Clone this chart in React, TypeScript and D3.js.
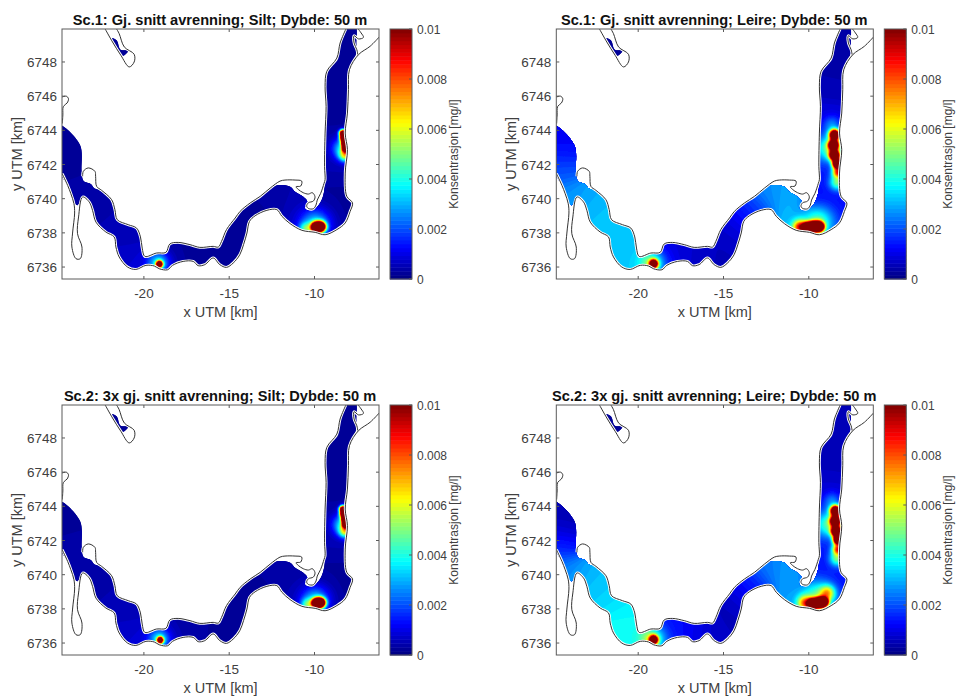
import React, { useMemo } from "react";
import * as d3 from "d3";

type P = [number, number];
// Coastline traces, km
const shoreSouth: P[] = [[-24.79,6741.46],[-24.47,6740.78],[-24.28,6740.29],[-24.1,6739.71],[-24.06,6739.16],[-24.18,6737.99],[-24.22,6737.17],[-23.98,6736.49],[-23.73,6736.49],[-23.63,6737.17],[-23.89,6737.95],[-23.83,6738.93],[-23.59,6740.1],[-23.2,6739.8],[-23.01,6739.32],[-22.81,6738.63],[-22.23,6738.05],[-21.74,6737.76],[-21.64,6737.17],[-21.45,6736.59],[-20.96,6736],[-20.47,6735.86],[-19.88,6736.1],[-19.39,6736.06],[-19.1,6735.9],[-18.61,6735.84],[-18.32,6736.1],[-17.7,6736.33],[-17.11,6736.33],[-16.82,6736.08],[-16.43,6736.14],[-15.94,6736.53],[-15.55,6736.14],[-15.16,6735.98],[-14.77,6736.23],[-14.38,6736.72],[-14.16,6737.31],[-13.96,6737.99],[-13.81,6738.67],[-13.48,6739],[-12.79,6739.32],[-12.21,6739.36],[-11.91,6738.97],[-11.43,6738.54],[-10.74,6738.15],[-9.96,6738.03],[-9.38,6737.89],[-8.69,6738.19],[-8.2,6738.58],[-7.91,6739.26],[-7.77,6739.75],[-8.11,6740.14],[-8.2,6741.5],[-8.07,6742.87],[-8.2,6743.84],[-8.07,6745.01],[-8.01,6746.38],[-7.95,6747.55],[-7.42,6748.43],[-6.74,6748.92],[-6.21,6749.46]];
const shoreNorthEast: P[] = [[-8.16,6749.93],[-8.5,6749.11],[-8.69,6748.23],[-9.28,6747.45],[-9.38,6746.58],[-9.32,6745.4],[-9.38,6743.84],[-9.41,6741.89],[-9.38,6741.11]];
const shoreBay: P[] = [[-9.44,6740.9],[-9.64,6740.31],[-9.84,6739.92],[-9.91,6739.63],[-10.07,6739.41],[-10.36,6739.43],[-10.46,6739.57],[-10.36,6739.76],[-10.07,6739.86],[-9.97,6740.11],[-10.13,6740.35],[-10.36,6740.27],[-10.66,6740.35],[-10.95,6740.54],[-11.08,6740.7],[-10.81,6740.74],[-10.75,6741.03],[-11.14,6741.09],[-11.73,6741.09],[-12.02,6741.03]];
const shoreNorthWest: P[] = [[-12.6,6740.62],[-13.18,6740.14],[-13.77,6739.75],[-14.36,6739.26],[-14.65,6738.87],[-15.16,6738.19],[-15.45,6737.5],[-15.64,6737.17],[-15.94,6737.21],[-16.72,6737.15],[-17.3,6737.31],[-17.99,6737.44],[-18.48,6737.35],[-18.71,6736.86],[-19.26,6736.82],[-19.94,6736.62],[-20.1,6737.11],[-20.2,6737.76],[-20.43,6738.28],[-20.92,6738.48],[-21.56,6738.77],[-21.7,6739.36],[-21.89,6739.94],[-22.48,6740.49]];
const shoreIsland: P[] = [[-22.48,6740.49],[-22.77,6740.72],[-22.83,6741.31],[-22.87,6741.6],[-23.26,6741.8],[-23.55,6741.6],[-23.59,6741.31]];
const shoreHeadland: P[] = [[-7.44,6749.93],[-7.27,6749.7],[-7.13,6749.44],[-7.42,6749.35],[-7.68,6749.54],[-7.68,6749.11],[-7.52,6748.72],[-7.46,6748.43]];
const shoreIslet: P[] = [[-22.27,6749.93],[-21.84,6749.17],[-21.35,6748.39],[-20.86,6747.71],[-20.57,6748],[-20.57,6748.45],[-21.15,6748.88],[-21.45,6749.66],[-21.6,6749.93]];
const shoreWest: P[] = [[-24.79,6745.95],[-24.55,6746],[-24.42,6745.85],[-24.5,6745.6],[-24.72,6745.4],[-24.75,6744.9],[-24.78,6744.4]];
// Water edges where they leave the shore
const waterWestNorth: P[] = [[-22.9,6740.6],[-23.1,6740.85],[-23.55,6741.05],[-23.65,6741.6],[-23.75,6743.16],[-25,6744.3]];
const waterTip: P[] = [[-25,6741.7],[-24.47,6740.78],[-24.28,6740.29],[-23.91,6739.62],[-23.59,6740.1]];
const waterBay: P[] = [[-9.44,6740.4],[-9.58,6739.92],[-9.87,6739.49],[-10.26,6739.29],[-10.56,6739.43],[-10.42,6739.82],[-10.66,6740.11],[-11.14,6740.41],[-11.43,6740.7],[-12.02,6740.8]];
const waterHead: P[] = [[-7.55,6748.55],[-7.55,6749.1],[-7.6,6750.1],[-8.16,6750.1]];
const waterIslet: P[] = [[-21.89,6749.4],[-21.6,6749.27],[-21.37,6748.72],[-20.92,6748.66],[-21.21,6748.37],[-21.6,6748.82]];

// Concentration read at stations along the fjord, mg/l
const stationX = [-24.6,-24,-24.6,-24.4,-23.9,-23.9,-23,-22.2,-21.4,-20.8,-20.8,-20.2,-18.6,-17.9,-17,-16.3,-15.5,-14.9,-14.4,-13.7,-13,-12.2,-11.4,-11,-10.2,-9.5,-8.8,-8.2,-8.9,-8.8,-8.8,-8.9,-8.9,-8.7,-8.35,-7.9,-21.3];
const stationY = [6743.6,6742.9,6742.5,6741.6,6741.9,6740.6,6740.4,6739.6,6738.7,6737.8,6736.8,6736.3,6736.4,6736.9,6736.8,6736.7,6736.5,6737,6737.8,6738.6,6739.3,6740.1,6740,6739.1,6739.1,6739.5,6739.6,6739.2,6738.6,6740.6,6742,6743.5,6745,6746.5,6748,6749.6,6748.8];
const silt1 = [.25,.25,.25,.3,.3,.35,.4,.45,.5,.55,.7,.9,.5,.3,.25,.25,.2,.2,.2,.25,.3,.4,.5,.6,.5,.3,.3,.25,.4,.3,.5,.4,.25,.2,.2,.2,.2];
const leire1 = [1.1,1.2,1.6,2.1,1.9,2.7,2.9,3.1,3.3,3.2,3.2,3.3,1.5,.9,.8,.7,.6,.6,.8,1.2,1.8,2.6,3,3.2,2,1.1,1.3,1.3,1.8,1.4,1.5,1.5,.9,.5,.4,.4,.2];
const silt2 = [.25,.3,.3,.35,.35,.4,.4,.45,.5,.55,.7,.9,.7,.4,.35,.3,.3,.25,.25,.25,.3,.35,.4,.5,.4,.3,.3,.25,.35,.3,.5,.4,.25,.2,.2,.2,.2];
const leire2 = [.5,.5,1,1.9,1.1,2.6,3,3.2,3.4,3.7,3.9,3.8,1.9,1.3,1.2,.9,.7,.6,.6,1,1.6,2.4,2.9,2.9,2,1.4,1.5,1.3,2,1.4,1.5,1.5,.8,.6,.5,.6,.2];

// Sediment plumes [x km, y km, spread km, peak mg/l]
const plumesSilt1: number[][] = [[-19.15,6736.23,.13,12],[-19.2,6736.3,.42,3],[-9.98,6738.4,.19,14],[-9.68,6738.42,.19,14],[-10,6738.55,.6,3],[-10.6,6738.3,.25,3],[-8.4,6743.9,.13,14],[-8.36,6743.6,.13,14],[-8.28,6743.3,.13,14],[-8.22,6743,.13,14],[-8.25,6742.6,.25,5],[-8.45,6743,.4,3]];
const plumesLeire1: number[][] = [[-19.15,6736.25,.16,12],[-19.2,6736.3,.45,3],[-10.15,6738.35,.19,15],[-9.8,6738.42,.19,15],[-9.45,6738.42,.19,15],[-10.6,6738.4,.28,6],[-9.5,6738.75,.6,3],[-8.55,6743.8,.2,14],[-8.6,6743.2,.2,14],[-8.55,6742.6,.2,14],[-8.4,6742.1,.18,14],[-8.35,6741.6,.22,7],[-8.4,6741,.3,3.5],[-8.95,6743,.5,3],[-8.7,6744.4,.35,1.5]];
const plumesSilt2: number[][] = [[-19.1,6736.23,.12,12],[-19.15,6736.3,.4,3],[-9.95,6738.4,.18,14],[-9.68,6738.42,.18,14],[-10,6738.55,.55,3],[-10.5,6738.3,.25,3],[-8.4,6743.9,.13,14],[-8.36,6743.6,.13,14],[-8.28,6743.3,.13,14],[-8.22,6743,.13,14],[-8.25,6742.6,.25,5],[-8.45,6743,.4,3]];
const plumesLeire2: number[][] = [[-19.15,6736.25,.16,12],[-19.2,6736.3,.45,3],[-9.85,6738.35,.18,15],[-9.5,6738.4,.18,15],[-9.2,6738.45,.18,15],[-8.95,6739,.3,4],[-10.3,6738.4,.3,5],[-9.5,6738.8,.6,3],[-8.5,6743.8,.2,14],[-8.5,6743.2,.2,14],[-8.45,6742.6,.2,14],[-8.35,6742.1,.18,14],[-8.35,6741.55,.22,7],[-8.4,6741,.3,3.5],[-8.95,6743,.5,3],[-8.7,6744.4,.35,1.5]];

const xTicks = [-20, -15, -10];
const yTicks = [6736, 6738, 6740, 6742, 6744, 6746, 6748];
const barTicks = [0, 0.002, 0.004, 0.006, 0.008, 0.01];
const titles = [
  "Sc.1: Gj. snitt avrenning; Silt; Dybde: 50 m",
  "Sc.1: Gj. snitt avrenning; Leire; Dybde: 50 m",
  "Sc.2: 3x gj. snitt avrenning; Silt; Dybde: 50 m",
  "Sc.2: 3x gj. snitt avrenning; Leire; Dybde: 50 m",
];
const stationSeries = [silt1, leire1, silt2, leire2];
const plumeSeries = [plumesSilt1, plumesLeire1, plumesSilt2, plumesLeire2];
const originX = [62, 556.3, 62, 556.3];
const originY = [29, 29, 405, 405];

const W = 317, H = 250, CBX = 328, CBW = 22;
const FONT = "'Liberation Sans', Arial, sans-serif";
const AXIS = "#5a5a5a", TEXT = "#404040";
const x = d3.scaleLinear().domain([-24.8, -6.22]).range([0, W]);
const y = d3.scaleLinear().domain([6735.3, 6749.93]).range([H, 0]);
const LEVELS = 64;
const c = d3.scaleLinear().domain([0, 0.01]).range([H, 0]);

const clamp = (v: number) => Math.max(0, Math.min(1, v));
const jet = (v: number) => {
  const r = clamp(Math.min(4 * v - 1.5, -4 * v + 4.5));
  const g = clamp(Math.min(4 * v - 0.5, -4 * v + 3.5));
  const b = clamp(Math.min(4 * v + 0.5, -4 * v + 2.5));
  return d3.rgb(r * 255, g * 255, b * 255).formatHex();
};

const ln = d3.line<P>().x((d) => x(d[0])).y((d) => y(d[1])).curve(d3.curveCatmullRom.alpha(0.5));
const lnClosed = d3.line<P>().x((d) => x(d[0])).y((d) => y(d[1])).curve(d3.curveCatmullRomClosed.alpha(0.5));
const waterPolygon: P[] = [
  ...waterTip,
  ...shoreSouth.slice(13, 58),
  ...waterHead,
  ...shoreNorthEast,
  ...waterBay,
  ...shoreNorthWest,
  ...waterWestNorth,
];
const waterPath = `${lnClosed(waterPolygon)}${lnClosed(waterIslet)}`;
const STEP = 2;

function field(i: number) {
  const vals = stationSeries[i], plumes = plumeSeries[i];
  const nx = Math.ceil(W / STEP) + 1, ny = Math.ceil(H / STEP) + 1;
  const out = new Array(nx * ny);
  for (let r = 0; r < ny; r++) {
    const ky = y.invert(r * STEP);
    for (let q = 0; q < nx; q++) {
      const kx = x.invert(q * STEP);
      let sw = 1e-12, sv = 0;
      for (let k = 0; k < vals.length; k++) {
        const d2 = (kx - stationX[k]) ** 2 + (ky - stationY[k]) ** 2;
        const w = Math.exp(-d2 / (2 * 0.55 * 0.55));
        sw += w; sv += w * vals[k];
      }
      let v = sv / sw;
      for (const p of plumes) {
        const d2 = (kx - p[0]) ** 2 + (ky - p[1]) ** 2;
        v += p[3] * Math.exp(-d2 / (2 * p[2] * p[2]));
      }
      out[r * nx + q] = v / 1000;
    }
  }
  const thresholds = d3.range(LEVELS).map((l) => (l / LEVELS) * 0.01);
  const shapes = d3.contours().size([nx, ny]).thresholds(thresholds)(out);
  const path = d3.geoPath();
  return shapes.map((s, l) => ({ d: path(s) as string, fill: jet((l + 0.5) / LEVELS) }));
}

function Panel({ i }: { i: number }) {
  const bands = useMemo(() => field(i), [i]);
  const id = `water${i}`;
  const lines = [shoreSouth, [...shoreNorthEast, ...shoreBay, ...shoreNorthWest, ...shoreIsland.slice(1)], shoreHeadland, shoreIslet, shoreWest] as P[][];
  return (
    <g transform={`translate(${originX[i]},${originY[i]})`} fontFamily={FONT}>
      <defs>
        <clipPath id={id}><path d={waterPath} /></clipPath>
        <clipPath id={`box${i}`}><rect x={0} y={0} width={W} height={H} /></clipPath>
      </defs>
      <g clipPath={`url(#box${i})`} filter="url(#soft)">
        <g clipPath={`url(#${id})`}>
          <g transform={`scale(${STEP})`}>
            {bands.map((b, l) => <path key={l} d={b.d} fill={b.fill} />)}
          </g>
        </g>
        {lines.map((l, k) => <path key={k} d={ln(l) as string} fill="none" stroke="#fff" strokeWidth={2.8} />)}
        {lines.map((l, k) => <path key={k} d={ln(l) as string} fill="none" stroke="#333" strokeWidth={1} />)}
      </g>
      <rect x={0} y={0} width={W} height={H} fill="none" stroke={AXIS} strokeWidth={1} />
      {xTicks.map((t) => (
        <g key={t}>
          <line x1={x(t)} x2={x(t)} y1={H} y2={H - 3} stroke={AXIS} />
          <line x1={x(t)} x2={x(t)} y1={0} y2={3} stroke={AXIS} />
          <text x={x(t)} y={H + 19} fontSize={13.5} fill={TEXT} textAnchor="middle">{t}</text>
        </g>
      ))}
      {yTicks.map((t) => (
        <g key={t}>
          <line x1={0} x2={3} y1={y(t)} y2={y(t)} stroke={AXIS} />
          <line x1={W} x2={W - 3} y1={y(t)} y2={y(t)} stroke={AXIS} />
          <text x={-5} y={y(t) + 5} fontSize={13.5} fill={TEXT} textAnchor="end">{t}</text>
        </g>
      ))}
      <text x={W / 2} y={H + 38} fontSize={14.5} fill={TEXT} textAnchor="middle">x UTM [km]</text>
      <text transform={`translate(-40,${H / 2}) rotate(-90)`} fontSize={14.5} fill={TEXT} textAnchor="middle">y UTM [km]</text>
      <text x={W / 2 - 0.5} y={-4.5} fontSize={14.6} fontWeight="bold" fill="#111" textAnchor="middle">{titles[i]}</text>
      {d3.range(LEVELS).map((l) => (
        <rect key={l} x={CBX} width={CBW} y={c((0.01 * (l + 1)) / LEVELS)} height={H / LEVELS + 0.5} fill={jet((l + 0.5) / LEVELS)} />
      ))}
      <rect x={CBX} y={0} width={CBW} height={H} fill="none" stroke={AXIS} strokeWidth={1} />
      {barTicks.map((t) => (
        <g key={t}>
          <line x1={CBX + CBW} x2={CBX + CBW - 3} y1={c(t)} y2={c(t)} stroke={AXIS} />
          <text x={CBX + CBW + 5} y={c(t) + 4.5} fontSize={12} fill={TEXT}>{t}</text>
        </g>
      ))}
      <text transform={`translate(${396},${H / 2}) rotate(-90)`} fontSize={12} fill={TEXT} textAnchor="middle">Konsentrasjon [mg/l]</text>
    </g>
  );
}

export default function App() {
  return (
    <svg width={958} height={697} style={{ position: "absolute", left: 0, top: 0, display: "block", background: "#fff" }}>
      <defs>
        <filter id="soft" x="0" y="0" width="1" height="1"><feGaussianBlur stdDeviation={0.45} /></filter>
      </defs>
      {titles.map((_, i) => <Panel key={i} i={i} />)}
    </svg>
  );
}
